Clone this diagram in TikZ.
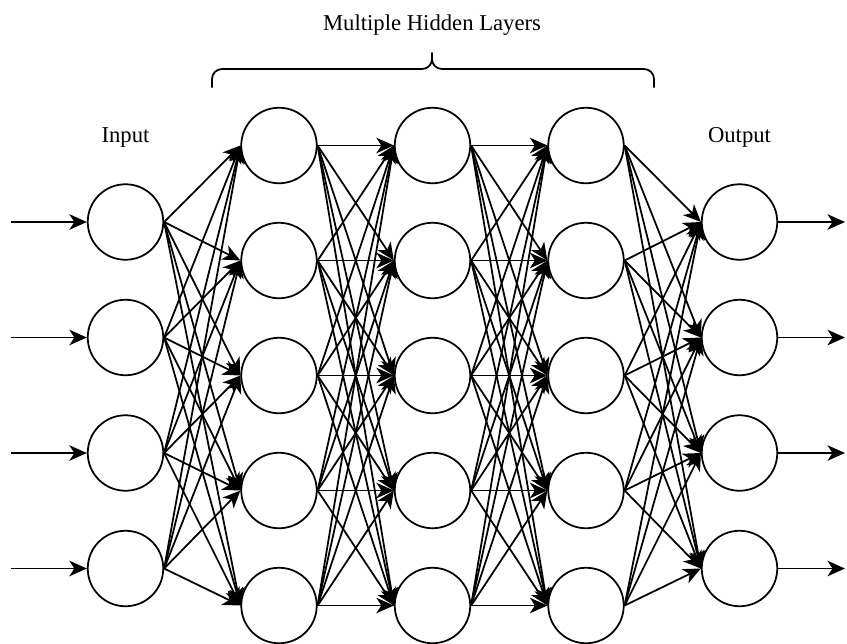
\documentclass[tikz,border=0pt]{standalone}
\usepackage{fontspec}
\setmainfont{Liberation Serif}
\usetikzlibrary{arrows.meta}
\tikzset{
  neuron/.style={circle, draw=black, line width=1pt, minimum size=1.51cm, inner sep=0pt},
  link/.style={line width=1pt, -{Stealth[length=3.5mm, width=3.1mm, inset=1mm]}},
  lab/.style={font=\fontsize{12.9}{15}\selectfont, anchor=base, inner sep=0pt},
  bracket/.style={line width=1pt, rounded corners=0.2cm}
}

\begin{document}
\begin{tikzpicture}
  \useasboundingbox (0,0) rectangle (16.94,-12.86);

  % input and output layers
  \foreach \i in {1,...,4} {
    \node[neuron] (I\i) at (2.51,{-4.44-2.31*(\i-1)}) {};
    \node[neuron] (O\i) at (14.79,{-4.44-2.31*(\i-1)}) {};
    \coordinate (in\i) at (0.22,{-4.44-2.31*(\i-1)});
    \coordinate (out\i) at (16.9,{-4.44-2.31*(\i-1)});
  }
  % hidden layers
  \foreach \l/\x in {1/5.58,2/8.65,3/11.72} {
    \foreach \j in {1,...,5}
      \node[neuron] (H\l-\j) at (\x,{-2.91-2.30*(\j-1)}) {};
  }

  % connections, east side to west side
  \foreach \i in {1,...,4} {
    \draw[link] (in\i) -- (I\i.west);
    \draw[link] (O\i.east) -- (out\i);
    \foreach \j in {1,...,5} {
      \draw[link] (I\i.east) -- (H1-\j.west);
      \draw[link] (H3-\j.east) -- (O\i.west);
    }
  }
  \foreach \l/\m in {1/2,2/3} {
    \foreach \j in {1,...,5}
      \foreach \k in {1,...,5}
        \draw[link] (H\l-\j.east) -- (H\m-\k.west);
  }

  % labels
  \node[lab] (inlab) at (2.51,-2.85) {Input};
  \node[lab] (outlab) at (14.79,-2.85) {Output};
  \node[lab] (hidlab) at (8.64,-0.60) {Multiple Hidden Layers};

  % brace over the hidden layers
  \draw[bracket] (4.24,-1.75) -- (4.24,-1.38) -- (8.64,-1.38) -- (8.64,-1.05);
  \draw[bracket] (13.08,-1.75) -- (13.08,-1.38) -- (8.64,-1.38) -- (8.64,-1.05);
\end{tikzpicture}
\end{document}
